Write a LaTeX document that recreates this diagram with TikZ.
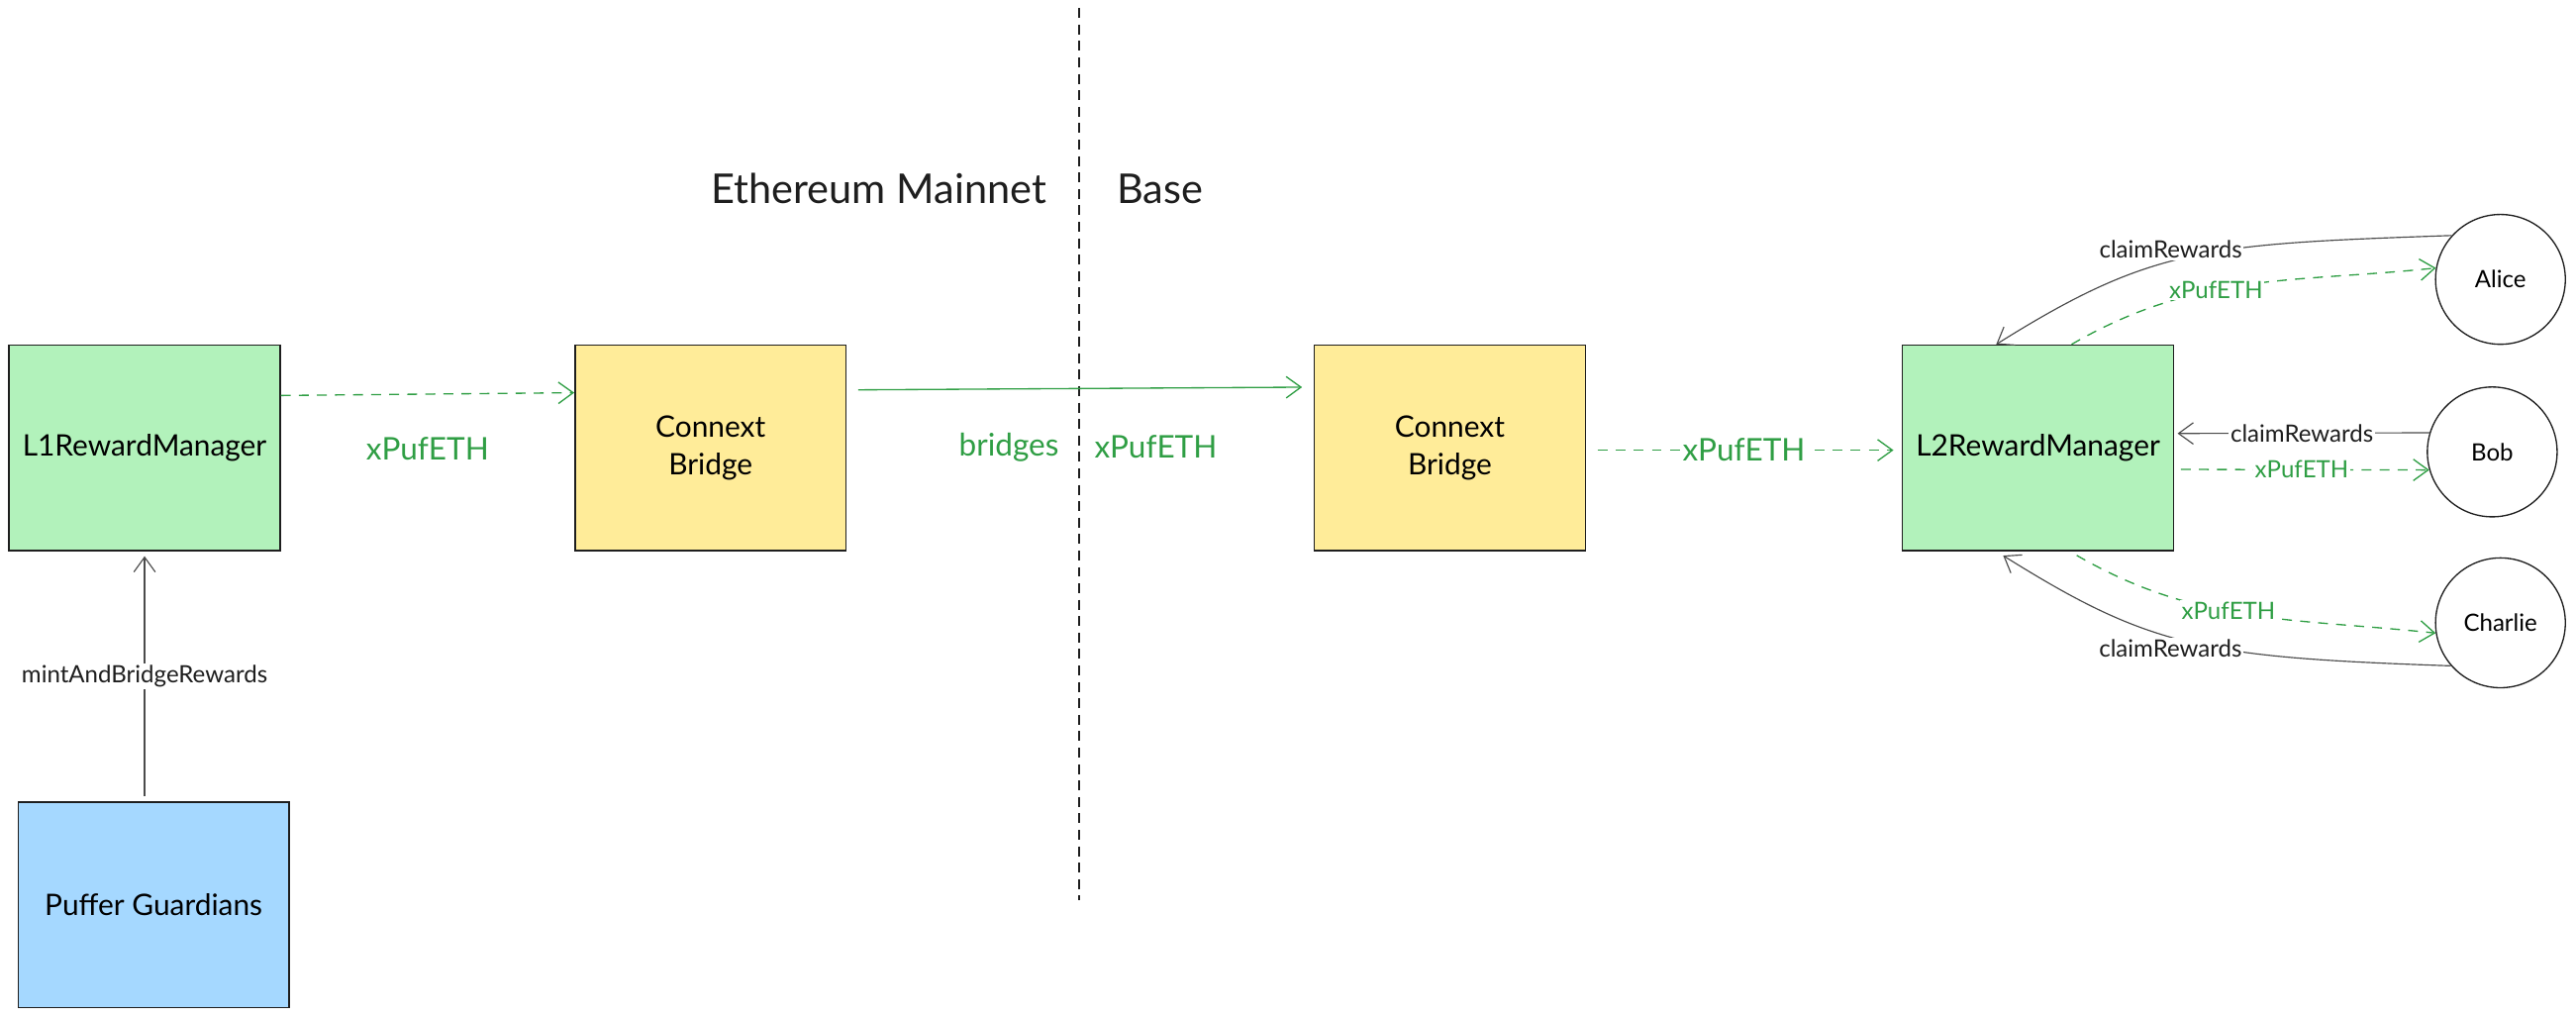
\documentclass[tikz,border=0pt]{standalone}
\usepackage{fontspec}
\setmainfont{Lato}
\usetikzlibrary{arrows.meta}
\definecolor{mintgreen}{HTML}{B2F2BB}
\definecolor{paleyellow}{HTML}{FFEC99}
\definecolor{paleblue}{HTML}{A5D8FF}
\definecolor{tokengreen}{HTML}{2F9E44}
\definecolor{ink}{HTML}{1E1E1E}
\tikzset{
    >={Straight Barb[length=9pt,width=13pt]},
    box/.style={draw=ink,line width=0.9pt,minimum width=165pt,minimum height=125pt,align=center,font=\fontsize{18}{23}\selectfont},
    user/.style={draw=ink,circle,line width=0.8pt,minimum size=79pt,font=\fontsize{14.5}{17}\selectfont},
    title/.style={text=ink,font=\fontsize{25}{30}\selectfont},
    token/.style={->,draw=tokengreen,line width=0.8pt,dash pattern=on 6pt off 5pt},
    call/.style={->,draw=ink!80,line width=0.7pt},
    lbl/.style={fill=white,inner sep=1pt,text=ink,font=\fontsize{14.5}{17}\selectfont},
    tokenlbl/.style={lbl,text=tokengreen},
    tokentext/.style={text=tokengreen,font=\fontsize{19}{23}\selectfont},
}
\begin{document}
\begin{tikzpicture}[x=1pt,y=1pt]
\useasboundingbox (0,0) rectangle (1568,-619);

\node[box,fill=mintgreen] (l1) at (88,-272.5) {L1RewardManager};
\node[box,fill=paleyellow] (bridgeL1) at (432.5,-272.5) {Connext\\Bridge};
\node[box,fill=paleyellow] (bridgeL2) at (882.5,-272.5) {Connext\\Bridge};
\node[box,fill=mintgreen] (l2) at (1240.5,-272.5) {L2RewardManager};
\node[box,fill=paleblue] (guardians) at (93.5,-550.5) {Puffer Guardians};
\node[user] (alice) at (1522,-170) {Alice};
\node[user] (bob) at (1517,-275) {Bob};
\node[user] (charlie) at (1522,-379) {Charlie};

\node[title] (mainnet) at (535,-115) {Ethereum Mainnet};
\node[title] (base) at (706,-115) {Base};
\coordinate (divtop) at (657,-5);
\coordinate (divbot) at (657,-548);
\draw[ink,line width=1.2pt,dash pattern=on 6pt off 4pt] (divtop) -- (divbot);

\draw[token] (l1.21.6) -- (bridgeL1.158.4) node[midway,yshift=-33pt,tokentext] {xPufETH};
\draw[->,tokengreen,line width=0.8pt,shorten <=7pt,shorten >=7pt] (bridgeL1.23.3) -- (bridgeL2.156.7);
\node[tokentext,anchor=east] (bridges) at (648,-272) {bridges};
\node[tokentext] (bridged) at (703.5,-272) {xPufETH};
\draw[token,shorten <=7pt,shorten >=5pt] (bridgeL2.-1.7) -- node[tokenlbl,font=\fontsize{19}{23}\selectfont] {xPufETH} (l2.181.7);

\draw[call,shorten <=3pt,shorten >=3pt] (l1.south |- guardians.north) -- node[lbl] {mintAndBridgeRewards} (l1.south);

\draw[call] (alice.138) to[out=182,in=32,out looseness=1.35] node[pos=0.55,yshift=7pt,lbl] {claimRewards} (l2.112);
\draw[token] (l2.72.7) to[out=30,in=186] node[pos=0.41,tokenlbl] {xPufETH} (alice.170);
\draw[call,shorten >=2pt] (bob.163) -- node[lbl] {claimRewards} (l2.6.6);
\draw[token,shorten <=4pt] (l2.-9.3) -- node[tokenlbl] {xPufETH} (bob.196);
\draw[token,shorten <=5pt] (l2.-73) to[out=-30,in=174] node[pos=0.45,tokenlbl] {xPufETH} (charlie.189);
\draw[call,shorten >=5pt] (charlie.221) to[out=178,in=-32,out looseness=1.35] node[pos=0.55,yshift=-7pt,lbl] {claimRewards} (l2.-112);
\end{tikzpicture}
\end{document}
